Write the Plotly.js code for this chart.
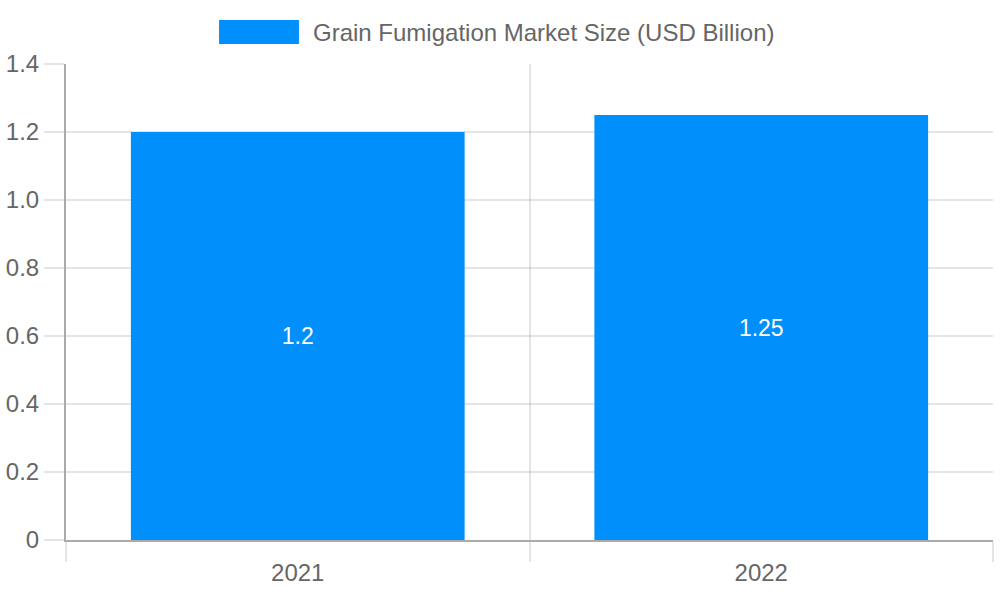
<!DOCTYPE html>
<html>
<head>
<meta charset="utf-8">
<script src="https://cdn.plot.ly/plotly-3.0.1.min.js"></script>
<style>
  html, body { margin: 0; padding: 0; background: #fff; }
  #chart { width: 1000px; height: 600px; }
</style>
</head>
<body>
<div id="chart"></div>
<script>
const seriesName = 'Grain Fumigation Market Size (USD Billion)';
const years = ['2021', '2022'];
const marketSize = [1.2, 1.25];
const yTickVals = [0, 0.2, 0.4, 0.6, 0.8, 1.0, 1.2, 1.4];
const yTickText = ['0', '0.2', '0.4', '0.6', '0.8', '1.0', '1.2', '1.4'];

const barColor = '#008ffb';
const textColor = '#666666';
const gridColor = 'rgba(0,0,0,0.1)';
const fontFamily = '"Liberation Sans", Arial, sans-serif';

const trace = {
  type: 'bar',
  x: years,
  y: marketSize,
  name: seriesName,
  marker: { color: barColor },
  text: marketSize.map(v => String(v)),
  textposition: 'inside',
  insidetextanchor: 'middle',
  textfont: { color: '#ffffff', size: 23, family: fontFamily },
  hoverinfo: 'x+y',
  cliponaxis: false,
};

// legend drawn by hand so the swatch matches the wide box
const layout = {
  width: 1000,
  height: 600,
  margin: { l: 66, r: 7, t: 64, b: 60 },
  paper_bgcolor: '#ffffff',
  plot_bgcolor: '#ffffff',
  font: { family: fontFamily, size: 24, color: textColor },
  showlegend: false,
  bargap: 0.28,
  xaxis: {
    type: 'category',
    tickson: 'boundaries',
    ticks: 'outside',
    ticklen: 20,
    tickwidth: 2,
    tickcolor: gridColor,
    ticklabelstandoff: 10,
    showgrid: true,
    gridcolor: gridColor,
    gridwidth: 2,
    showline: true,
    linecolor: '#aaaaaa',
    linewidth: 2,
    tickfont: { size: 24, color: textColor },
    range: [-0.5, 1.5],
  },
  yaxis: {
    range: [0, 1.4],
    tickvals: yTickVals,
    ticktext: yTickText,
    ticks: 'outside',
    ticklen: 20,
    tickwidth: 2,
    tickcolor: gridColor,
    showgrid: true,
    gridcolor: gridColor,
    gridwidth: 2,
    zeroline: false,
    showline: true,
    linecolor: '#aaaaaa',
    linewidth: 2,
    tickfont: { size: 24, color: textColor },
  },
  shapes: [{
    type: 'rect',
    xref: 'paper', yref: 'paper',
    x0: 0.1651, x1: 0.2513,
    y0: 1.042, y1: 1.0924,
    fillcolor: barColor,
    line: { width: 0 },
  }],
  annotations: [{
    xref: 'paper', yref: 'paper',
    x: 0.2642, y: 1.067,
    xanchor: 'left', yanchor: 'middle',
    text: seriesName,
    showarrow: false,
    font: { size: 24, color: textColor, family: fontFamily },
  }],
};

Plotly.newPlot('chart', [trace], layout, { displayModeBar: false, staticPlot: true });
</script>
</body>
</html>
